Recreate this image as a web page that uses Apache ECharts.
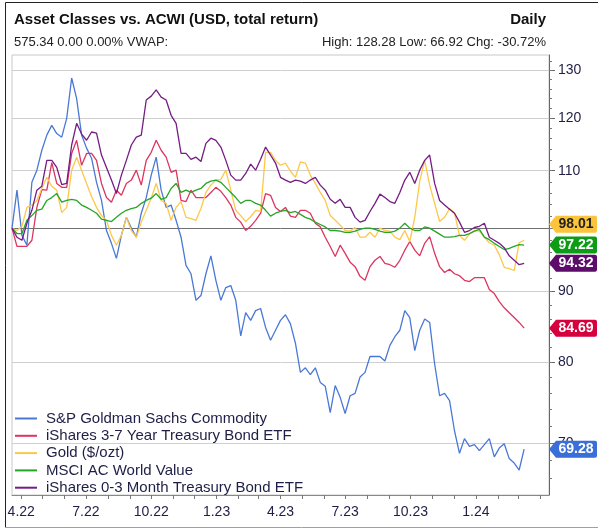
<!DOCTYPE html>
<html>
<head>
<meta charset="utf-8">
<script src="https://cdn.jsdelivr.net/npm/echarts@6/dist/echarts.min.js"></script>
<style>
html, body { margin: 0; padding: 0; background: #fff; }
#main { width: 598px; height: 530px; }
</style>
</head>
<body>
<div id="main"></div>
<script>
// weekly closes, rebased to 100
var startDate = Date.UTC(2022, 2, 19);
var endDate = Date.UTC(2024, 3, 13);

var gsciValues = [100, 106.5, 98.8, 97.2, 107.9, 110.1, 113.8, 116.7, 118.6, 117.0, 116.3, 120.0, 128.3, 124.0,
  116.7, 114.2, 112.3, 107.9, 104.7, 99.6, 97.5, 95.1, 98.8, 101.8, 100.0, 98.5, 102.5, 105.2, 109.2, 112.5,
  106.5, 103.5, 103.9, 101.3, 98.5, 94.0, 92.7, 88.7, 89.4, 92.7, 95.5, 91.7, 88.7, 90.6, 90.9, 88.7,
  83.6, 86.9, 85.8, 87.2, 87.5, 84.8, 83.0, 84.4, 85.8, 86.6, 85.3, 82.6, 78.7, 79.3, 78.4, 79.3,
  77.4, 76.9, 73.6, 77.0, 75.5, 73.5, 75.7, 76.0, 78.1, 78.7, 80.8, 80.8, 80.8, 80.2, 82.3, 83.5,
  84.4, 87.2, 86.2, 81.6, 84.4, 86.0, 85.5, 79.8, 75.7, 76.0, 75.1, 71.4, 68.8, 70.5, 69.6, 69.8,
  69.1, 69.8, 70.5, 68.4, 69.4, 69.9, 68.2, 67.7, 66.92, 69.28];
var ib37Values = [100, 97.0, 97.0, 97.0, 98.0, 103.5, 106.6, 106.5, 111.5, 107.7, 107.0, 107.0, 113.2, 115.7,
  111.0, 113.2, 113.2, 111.9, 107.7, 105.2, 104.4, 106.5, 105.6, 107.7, 108.3, 110.1, 107.4, 111.9, 113.4, 115.7,
  113.8, 112.5, 109.7, 110.1, 104.7, 104.5, 106.5, 105.2, 105.2, 105.2, 106.1, 107.0, 106.3, 105.2, 103.9, 101.8,
  101.0, 99.6, 100.3, 101.3, 102.5, 105.9, 105.6, 103.5, 102.8, 103.5, 102.0, 101.8, 103.0, 103.0, 102.5, 100.8,
  100.2, 98.5, 97.0, 95.4, 97.2, 95.9, 94.5, 93.8, 92.3, 91.7, 93.8, 94.8, 95.4, 94.3, 94.1, 93.7,
  94.8, 96.4, 97.8, 96.4, 95.5, 97.5, 98.6, 95.9, 93.8, 92.9, 93.4, 92.7, 92.4, 91.7, 91.5, 92.1,
  92.1, 92.1, 90.3, 89.7, 88.5, 87.6, 86.9, 86.2, 85.5, 84.69];
var goldValues = [100, 99.6, 100.3, 103.5, 103.9, 104.7, 106.8, 108.8, 107.2, 106.5, 102.6, 103.5, 110.1, 112.5,
  110.1, 107.7, 105.4, 103.5, 102.1, 101.3, 98.8, 97.2, 98.8, 101.8, 99.6, 98.5, 101.0, 103.0, 105.1, 107.7,
  104.7, 104.2, 101.3, 103.5, 104.5, 101.8, 101.6, 101.3, 103.3, 106.1, 107.4, 108.3, 108.4, 110.1, 106.5, 103.0,
  102.1, 101.1, 101.9, 103.0, 102.8, 113.4, 113.4, 111.9, 111.0, 111.4, 109.9, 108.8, 111.6, 111.4, 109.2, 107.7,
  106.1, 104.7, 102.1, 101.3, 100.5, 99.6, 99.5, 100.1, 98.5, 98.5, 99.3, 98.5, 100.0, 99.6, 99.5, 98.5,
  98.1, 99.6, 97.8, 101.8, 108.1, 111.9, 107.4, 104.2, 101.1, 101.8, 103.3, 102.5, 98.8, 98.0, 99.0, 99.6,
  99.5, 98.5, 97.6, 97.2, 95.7, 93.7, 93.5, 93.2, 97.6, 98.01];
var acwiValueValues = [100, 99.1, 99.1, 101.3, 102.1, 103.0, 103.2, 104.7, 105.2, 105.9, 104.4, 104.7, 104.9, 104.7,
  103.9, 103.5, 103.0, 102.5, 101.5, 101.3, 101.1, 101.8, 102.5, 103.0, 103.3, 103.5, 104.2, 104.7, 105.1, 105.9,
  104.9, 105.2, 106.8, 107.7, 106.1, 106.5, 106.1, 106.5, 106.8, 107.7, 108.1, 108.3, 107.9, 107.0, 106.1, 105.2,
  104.2, 104.7, 104.7, 104.2, 103.9, 103.0, 102.0, 102.5, 102.8, 103.0, 102.6, 102.8, 102.3, 101.8, 101.5, 101.0,
  100.6, 100.2, 99.6, 99.6, 99.5, 99.3, 99.3, 99.5, 99.8, 100.0, 100.0, 99.8, 99.5, 99.3, 99.3, 99.5,
  100.0, 100.8, 100.0, 99.6, 99.6, 100.2, 100.0, 99.5, 99.0, 98.5, 98.5, 98.6, 98.8, 98.8, 99.1, 99.5,
  99.8, 98.5, 98.1, 97.5, 97.0, 96.5, 96.7, 97.0, 97.3, 97.22];
var ib03Values = [100, 98.5, 98.0, 100.8, 103.0, 106.5, 107.2, 111.9, 111.9, 110.6, 107.5, 107.7, 114.8, 119.0,
  116.9, 115.7, 117.3, 117.1, 112.9, 110.6, 108.3, 105.9, 109.2, 111.9, 114.8, 116.3, 116.7, 123.7, 124.5, 125.8,
  124.3, 123.7, 120.6, 119.0, 113.2, 113.2, 112.1, 112.5, 111.7, 115.1, 116.1, 115.7, 114.4, 111.9, 109.2, 108.3,
  108.3, 109.5, 111.2, 110.1, 112.1, 114.4, 112.9, 111.4, 108.8, 108.3, 107.9, 108.3, 108.1, 107.7, 108.3, 108.8,
  107.4, 106.5, 104.9, 104.2, 104.9, 103.5, 103.5, 101.8, 101.0, 101.3, 102.8, 104.2, 105.8, 105.2, 104.5, 104.2,
  106.1, 108.3, 109.7, 107.7, 110.1, 111.9, 112.9, 107.7, 104.7, 103.9, 103.2, 102.5, 101.0, 99.3, 99.6, 100.1,
  100.3, 100.8, 98.5, 98.0, 97.5, 96.8, 95.5, 94.8, 94.1, 94.32];

var seriesNames = ['S&P Goldman Sachs Commodity', 'iShares 3-7 Year Treasury Bond ETF', 'Gold ($/ozt)',
  'MSCI AC World Value', 'iShares 0-3 Month Treasury Bond ETF'];
var seriesColors = ['#4a78d6', '#dc3560', '#fdc84a', '#26a626', '#741c84'];
var tagColors = ['#3a6ed8', '#d6003e', '#fcc43a', '#0e9c16', '#5e0c6c'];
var tagTextColors = ['#fff', '#fff', '#222', '#fff', '#fff'];
var tagShift = [0, 0, -16, 0, 0];

var xTickDates = ['2022-04-01', '2022-07-01', '2022-10-01', '2023-01-01', '2023-04-01', '2023-07-01', '2023-10-01', '2024-01-01'];
var xTickLabels = ['4.22', '7.22', '10.22', '1.23', '4.23', '7.23', '10.23', '1.24'];
var yTickLabels = [70, 80, 90, 100, 110, 120, 130];
var yMin = 64.2, yMax = 133.3;

var headLeft = '575.34 0.00 0.00% VWAP:';
var headRight = 'High: 128.28 Low: 66.92 Chg: -30.72%';

var dataSets = [gsciValues, ib37Values, goldValues, acwiValueValues, ib03Values];
var dayMs = 86400000;
var fontName = 'Liberation Sans, Arial, sans-serif';
var txtColor = '#1e1e46';

var xTickTimes = xTickDates.map(function (d) { return Date.parse(d + 'T00:00:00Z'); });
var monthTicks = [];
for (var y = 2022; y <= 2024; y++) {
  for (var m = 0; m < 12; m++) {
    var t = Date.UTC(y, m, 1);
    if (t > startDate && t < endDate) monthTicks.push(t);
  }
}
var minorY = [];
for (var v = 66; v <= 132; v += 2) minorY.push(Math.log(v));

var tagPath = 'path://M0,8.5 L7,0 L46,0 Q48,0 48,2 L48,15 Q48,17 46,17 L7,17 Z';

var series = dataSets.map(function (vals, k) {
  var last = vals[vals.length - 1];
  return {
    name: seriesNames[k],
    type: 'line',
    showSymbol: false,
    symbol: 'none',
    color: seriesColors[k],
    lineStyle: { width: 1.3, color: seriesColors[k] },
    emphasis: { disabled: true },
    data: vals.map(function (val, i) { return [startDate + i * 7 * dayMs, Math.log(val)]; }),
    markPoint: {
      silent: true,
      symbol: tagPath,
      symbolSize: [48, 17],
      symbolOffset: [24, tagShift[k]],
      itemStyle: { color: tagColors[k] },
      label: {
        show: true,
        position: 'inside',
        offset: [3, 0],
        color: tagTextColors[k],
        fontSize: 14,
        fontWeight: 'bold',
        fontFamily: fontName,
        formatter: function (p) { return p.value.toFixed(2); }
      },
      data: [{ coord: [endDate, Math.log(last)], value: last }]
    }
  };
});

var chart = echarts.init(document.getElementById('main'));
chart.setOption({
  animation: false,
  backgroundColor: '#fff',
  title: [
    { text: 'Asset Classes vs. ACWI (USD, total return)', left: 14, top: 12, padding: 0,
      textStyle: { fontSize: 15, fontWeight: 'bold', color: '#111', fontFamily: fontName } },
    { text: 'Daily', right: 52, top: 12, padding: 0,
      textStyle: { fontSize: 15, fontWeight: 'bold', color: '#111', fontFamily: fontName } },
    { text: headLeft, left: 14, top: 36, padding: 0,
      textStyle: { fontSize: 13, fontWeight: 'normal', color: '#222', fontFamily: fontName } },
    { text: headRight, right: 52, top: 36, padding: 0,
      textStyle: { fontSize: 13, fontWeight: 'normal', color: '#222', fontFamily: fontName } }
  ],
  legend: {
    data: seriesNames,
    orient: 'vertical',
    left: 15,
    top: 411,
    padding: 0,
    itemGap: 2.3,
    itemWidth: 22,
    itemHeight: 2,
    icon: 'rect',
    selectedMode: false,
    textStyle: { fontSize: 15, lineHeight: 15, color: txtColor, fontFamily: fontName, padding: [0, 0, 0, 4] }
  },
  graphic: [
    { type: 'polyline', silent: true, shape: { points: [[5.5, 528], [5.5, 2.5], [598, 2.5]] },
      style: { stroke: '#222', fill: null, lineWidth: 1 } },
    { type: 'line', silent: true, shape: { x1: 5, y1: 527.5, x2: 598, y2: 527.5 },
      style: { stroke: '#a0a0a0', lineWidth: 1 } }
  ],
  grid: { left: 12, right: 49, top: 55, bottom: 35, show: true, borderColor: '#c8c8c8', borderWidth: 1 },
  xAxis: {
    type: 'value',
    min: startDate,
    max: endDate,
    axisLine: { lineStyle: { color: '#888' } },
    axisTick: { customValues: monthTicks, length: 4, lineStyle: { color: '#777' } },
    axisLabel: {
      customValues: xTickTimes,
      formatter: function (val) { return xTickLabels[xTickTimes.indexOf(val)]; },
      fontSize: 14, color: txtColor, fontFamily: fontName, margin: 10
    },
    splitLine: { show: false }
  },
  yAxis: [
    {
      type: 'value',
      position: 'right',
      min: Math.log(yMin),
      max: Math.log(yMax),
      axisLine: { show: true, lineStyle: { color: '#666' } },
      axisTick: { customValues: yTickLabels.map(Math.log), length: 6, lineStyle: { color: '#666' } },
      axisLabel: {
        customValues: yTickLabels.map(Math.log),
        formatter: function (val) { return String(Math.round(Math.exp(val))); },
        fontSize: 14, color: txtColor, fontFamily: fontName, margin: 9
      },
      splitLine: { show: true, lineStyle: { color: ['#cfcfcf', '#cfcfcf', '#cfcfcf', '#707070', '#cfcfcf', '#cfcfcf', '#cfcfcf'] } }
    },
    {
      type: 'value',
      position: 'right',
      min: Math.log(yMin),
      max: Math.log(yMax),
      axisLine: { show: false },
      axisTick: { customValues: minorY, length: 3, lineStyle: { color: '#777' } },
      axisLabel: { show: false },
      splitLine: { show: false }
    }
  ],
  series: series
});
</script>
</body>
</html>
